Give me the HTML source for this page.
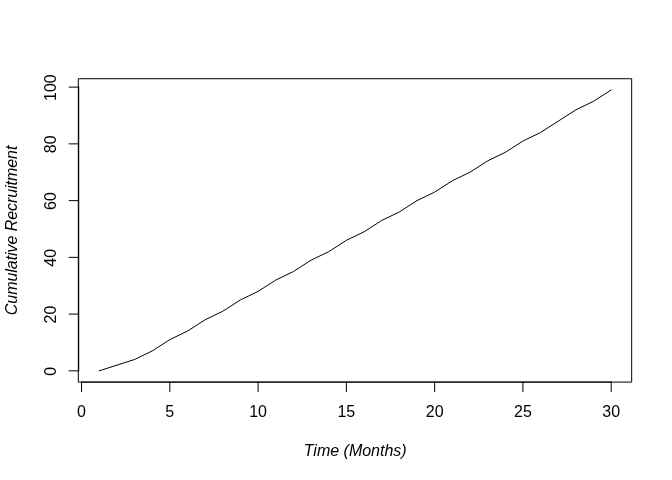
<!DOCTYPE html>
<html><head><meta charset="utf-8"><title>Cumulative Recruitment</title>
<style>html,body{margin:0;padding:0;background:#fff}svg{display:block}text{font-family:"Liberation Sans",Arial,Helvetica,sans-serif;font-size:16px;fill:#000}</style></head><body>
<svg width="672" height="480" viewBox="0 0 672 480">
<rect width="672" height="480" fill="#fff"/>
<g fill="none" stroke="#000" stroke-width="1" stroke-linecap="round" stroke-linejoin="round">
<polyline points="99.20,370.84 116.86,365.17 134.51,359.50 152.17,350.98 169.82,339.63 187.48,331.12 205.13,319.77 222.79,311.26 240.44,299.91 258.10,291.40 275.75,280.05 293.41,271.54 311.06,260.19 328.72,251.68 346.37,240.33 364.03,231.82 381.68,220.47 399.34,211.96 416.99,200.61 434.65,192.10 452.30,180.75 469.96,172.24 487.61,160.89 505.27,152.38 522.92,141.03 540.58,132.51 558.23,121.17 575.89,109.82 593.54,101.30 611.20,89.96"/>
<path d="M81.54,382.08H611.20"/>
<path d="M81.54,382.08v9.6"/>
<path d="M169.82,382.08v9.6"/>
<path d="M258.10,382.08v9.6"/>
<path d="M346.37,382.08v9.6"/>
<path d="M434.65,382.08v9.6"/>
<path d="M522.92,382.08v9.6"/>
<path d="M611.20,382.08v9.6"/>
<path d="M78.72,370.84V87.12"/>
<path d="M78.72,370.84h-9.6"/>
<path d="M78.72,314.10h-9.6"/>
<path d="M78.72,257.35h-9.6"/>
<path d="M78.72,200.61h-9.6"/>
<path d="M78.72,143.86h-9.6"/>
<path d="M78.72,87.12h-9.6"/>
<rect x="78.72" y="78.72" width="552.96" height="303.36"/>
</g>
<g text-anchor="middle">
<text x="81.54" y="416.64">0</text>
<text x="169.82" y="416.64">5</text>
<text x="258.10" y="416.64">10</text>
<text x="346.37" y="416.64">15</text>
<text x="434.65" y="416.64">20</text>
<text x="522.92" y="416.64">25</text>
<text x="611.20" y="416.64">30</text>
<text transform="translate(55.68,371.34) rotate(-90)">0</text>
<text transform="translate(55.68,314.60) rotate(-90)">20</text>
<text transform="translate(55.68,257.85) rotate(-90)">40</text>
<text transform="translate(55.68,201.11) rotate(-90)">60</text>
<text transform="translate(55.68,144.36) rotate(-90)">80</text>
<text transform="translate(55.68,87.62) rotate(-90)">100</text>
<text x="355.20" y="456" font-style="italic">Time (Months)</text>
<text transform="translate(17.28,230.40) rotate(-90)" font-style="italic" textLength="169.5" lengthAdjust="spacing">Cumulative Recruitment</text>
</g></svg></body></html>
